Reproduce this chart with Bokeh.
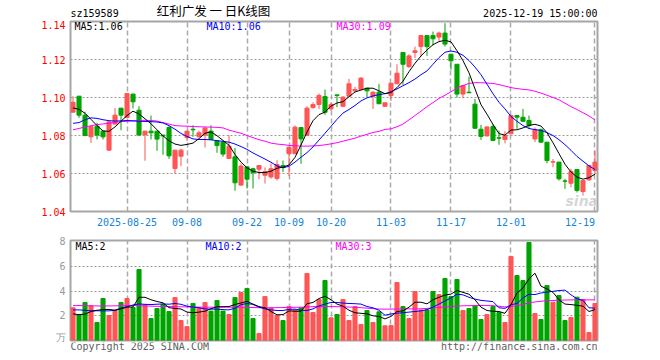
import pandas as pd
from bokeh.plotting import figure
from bokeh.layouts import column
from bokeh.models import Range1d, FixedTicker, Label, ColumnDataSource, PrintfTickFormatter
from bokeh.embed import file_html
from bokeh.resources import INLINE

# ---------------- data ----------------
code = "sz159589"
chart_title = "红利广发 一 日K线图"
stamp = "2025-12-19 15:00:00"
copyright_text = "Copyright 2025 SINA.COM"
url_text = "http://finance.sina.com.cn"

holidays = ["2025-10-01", "2025-10-02", "2025-10-03", "2025-10-06", "2025-10-07", "2025-10-08"]
dates = [d.strftime("%Y-%m-%d") for d in pd.bdate_range("2025-08-12", "2025-12-19")
         if d.strftime("%Y-%m-%d") not in holidays]

tick_dates = ["2025-08-25", "2025-09-08", "2025-09-22", "2025-10-09", "2025-10-20",
              "2025-11-03", "2025-11-17", "2025-12-01", "2025-12-19"]
tick_labels = ["2025-08-25", "09-08", "09-22", "10-09", "10-20", "11-03", "11-17", "12-01", "12-19"]

price_ticks = [1.04, 1.06, 1.08, 1.10, 1.12, 1.14]
vol_ticks = [0.1, 2, 4, 6, 8]          # the unit label sits at the bottom edge
vol_tick_labels = ["万", "2", "4", "6", "8"]

open_ = [1.0923, 1.1007, 1.0907, 1.0793, 1.0849, 1.0823, 1.0723, 1.0860, 1.0944, 1.0895,
         1.1018, 1.0933, 1.0804, 1.0823, 1.0823, 1.0802, 1.0842, 1.0626, 1.0691, 1.0789,
         1.0833, 1.0793, 1.0802, 1.0823, 1.0772, 1.0765, 1.0679, 1.0688, 1.0539, 1.0635,
         1.0625, 1.0623, 1.0591, 1.0582, 1.0574, 1.0642, 1.0704, 1.0704, 1.0842, 1.0800,
         1.0947, 1.0963, 1.1005, 1.0940, 1.1014, 1.0954, 1.1007, 1.1035, 1.1042, 1.1049,
         1.1007, 1.1028, 1.0954, 1.1010, 1.1072, 1.1237, 1.1163, 1.1237, 1.1268, 1.1326,
         1.1326, 1.1318, 1.1339, 1.1228, 1.1175, 1.1018, 1.1028, 1.0965, 1.0833, 1.0798,
         1.0847, 1.0788, 1.0779, 1.0809, 1.0905, 1.0896, 1.0879, 1.0782, 1.0830, 1.0765,
         1.0660, 1.0660, 1.0561, 1.0549, 1.0621, 1.0505, 1.0567, 1.0616]
high = [1.1007, 1.1007, 1.0925, 1.0854, 1.0867, 1.0823, 1.0872, 1.0944, 1.0944, 1.1021,
        1.1018, 1.0954, 1.0823, 1.0905, 1.0823, 1.0802, 1.0849, 1.0723, 1.0730, 1.0823,
        1.0854, 1.0825, 1.0840, 1.0854, 1.0772, 1.0772, 1.0802, 1.0735, 1.0653, 1.0635,
        1.0630, 1.0642, 1.0632, 1.0653, 1.0670, 1.0668, 1.0738, 1.0853, 1.0842, 1.0954,
        1.0975, 1.1021, 1.1042, 1.0975, 1.1014, 1.1007, 1.1098, 1.1056, 1.1107, 1.1049,
        1.1032, 1.1072, 1.0975, 1.1075, 1.1175, 1.1237, 1.1228, 1.1268, 1.1326, 1.1326,
        1.1347, 1.1347, 1.1391, 1.1228, 1.1175, 1.1063, 1.1110, 1.0993, 1.0856, 1.0847,
        1.0861, 1.0826, 1.0823, 1.0911, 1.0905, 1.0940, 1.0905, 1.0842, 1.0837, 1.0765,
        1.0677, 1.0660, 1.0572, 1.0625, 1.0621, 1.0563, 1.0642, 1.0721]
low = [1.0920, 1.0893, 1.0796, 1.0761, 1.0779, 1.0779, 1.0719, 1.0858, 1.0828, 1.0895,
       1.0942, 1.0802, 1.0667, 1.0779, 1.0719, 1.0698, 1.0677, 1.0600, 1.0639, 1.0770,
       1.0793, 1.0793, 1.0737, 1.0779, 1.0709, 1.0688, 1.0679, 1.0509, 1.0535, 1.0521,
       1.0521, 1.0570, 1.0547, 1.0572, 1.0563, 1.0607, 1.0586, 1.0704, 1.0651, 1.0800,
       1.0942, 1.0940, 1.0909, 1.0930, 1.0949, 1.0949, 1.1007, 1.1028, 1.1042, 1.1002,
       1.0940, 1.0967, 1.0950, 1.0982, 1.1072, 1.1067, 1.1155, 1.1207, 1.1216, 1.1219,
       1.1274, 1.1298, 1.1268, 1.1146, 1.1000, 1.0996, 1.1025, 1.0835, 1.0777, 1.0795,
       1.0770, 1.0751, 1.0759, 1.0809, 1.0835, 1.0870, 1.0835, 1.0765, 1.0763, 1.0654,
       1.0633, 1.0563, 1.0519, 1.0528, 1.0500, 1.0484, 1.0560, 1.0598]
close = [1.0975, 1.0907, 1.0800, 1.0846, 1.0802, 1.0793, 1.0872, 1.0907, 1.0907, 1.1021,
         1.0977, 1.0802, 1.0823, 1.0814, 1.0781, 1.0798, 1.0693, 1.0723, 1.0723, 1.0823,
         1.0830, 1.0814, 1.0840, 1.0779, 1.0747, 1.0702, 1.0744, 1.0551, 1.0639, 1.0570,
         1.0604, 1.0642, 1.0610, 1.0625, 1.0647, 1.0633, 1.0738, 1.0844, 1.0782, 1.0944,
         1.0963, 1.1011, 1.0922, 1.0963, 1.1010, 1.1002, 1.1072, 1.1042, 1.1102, 1.1035,
         1.1028, 1.0967, 1.0972, 1.1075, 1.1128, 1.1175, 1.1219, 1.1246, 1.1326, 1.1268,
         1.1309, 1.1339, 1.1281, 1.1193, 1.1018, 1.1063, 1.1025, 1.0838, 1.0795, 1.0845,
         1.0774, 1.0786, 1.0800, 1.0905, 1.0896, 1.0875, 1.0853, 1.0830, 1.0765, 1.0668,
         1.0662, 1.0572, 1.0559, 1.0611, 1.0511, 1.0563, 1.0642, 1.0660]
volume = [2.65, 2.11, 3.08, 2.81, 1.46, 3.40, 2.02, 2.43, 3.08, 3.40,
          2.67, 5.75, 2.91, 1.78, 2.59, 2.94, 2.35, 3.48, 1.62, 1.13,
          3.00, 2.65, 3.08, 2.38, 3.24, 2.38, 2.11, 3.48, 3.89, 4.21,
          1.78, 0.57, 3.56, 2.65, 2.02, 1.62, 2.75, 2.48, 2.65, 5.43,
          2.27, 3.32, 4.86, 1.84, 2.11, 3.32, 1.62, 2.75, 1.30, 2.43,
          1.46, 2.32, 1.19, 1.21, 4.70, 2.75, 1.78, 3.97, 2.48, 2.48,
          3.97, 3.72, 5.02, 3.56, 4.94, 2.43, 2.59, 2.81, 1.70, 2.11,
          2.75, 2.27, 1.46, 6.80, 5.26, 4.86, 7.94, 2.19, 1.70, 4.45,
          3.10, 3.64, 1.62, 1.86, 3.51, 3.32, 0.65, 3.00]

ma5 = [1.0945, 1.0938, 1.0917, 1.0885, 1.0852, 1.0824, 1.0822, 1.0845, 1.0875, 1.0905,
       1.0928, 1.0913, 1.0888, 1.0862, 1.0830, 1.0798, 1.0772, 1.0755, 1.0748, 1.0753,
       1.0760, 1.0784, 1.0812, 1.0819, 1.0799, 1.0774, 1.0749, 1.0700, 1.0660, 1.0630,
       1.0612, 1.0605, 1.0605, 1.0612, 1.0628, 1.0633, 1.0645, 1.0685, 1.0750, 1.0818,
       1.0878, 1.0910, 1.0923, 1.0955, 1.0971, 1.0978, 1.1004, 1.1029, 1.1039, 1.1049,
       1.1049, 1.1035, 1.1020, 1.1026, 1.1052, 1.1086, 1.1136, 1.1180, 1.1219, 1.1250,
       1.1278, 1.1294, 1.1301, 1.1293, 1.1246, 1.1194, 1.1130, 1.1045, 1.0962, 1.0912,
       1.0858, 1.0810, 1.0802, 1.0829, 1.0830, 1.0840, 1.0853, 1.0859, 1.0850, 1.0815,
       1.0762, 1.0705, 1.0649, 1.0608, 1.0581, 1.0570, 1.0578, 1.0596]
ma10 = [1.0864, 1.0868, 1.0883, 1.0893, 1.0890, 1.0883, 1.0878, 1.0876, 1.0877, 1.0879,
        1.0877, 1.0875, 1.0874, 1.0873, 1.0871, 1.0866, 1.0852, 1.0833, 1.0811, 1.0795,
        1.0782, 1.0779, 1.0779, 1.0777, 1.0773, 1.0769, 1.0765, 1.0755, 1.0742, 1.0727,
        1.0708, 1.0692, 1.0676, 1.0659, 1.0640, 1.0630, 1.0638, 1.0660, 1.0686, 1.0710,
        1.0740, 1.0776, 1.0812, 1.0848, 1.0885, 1.0918, 1.0937, 1.0958, 1.0982, 1.0998,
        1.1008, 1.1015, 1.1020, 1.1030, 1.1045, 1.1062, 1.1078, 1.1097, 1.1120, 1.1140,
        1.1175, 1.1210, 1.1238, 1.1245, 1.1238, 1.1222, 1.1195, 1.1160, 1.1120, 1.1070,
        1.1020, 1.0975, 1.0940, 1.0900, 1.0875, 1.0852, 1.0837, 1.0831, 1.0827, 1.0815,
        1.0800, 1.0778, 1.0752, 1.0722, 1.0690, 1.0665, 1.0640, 1.0621]
ma30 = [1.0830, 1.0837, 1.0845, 1.0851, 1.0857, 1.0861, 1.0865, 1.0869, 1.0873, 1.0875,
        1.0877, 1.0879, 1.0880, 1.0879, 1.0876, 1.0868, 1.0860, 1.0852, 1.0850, 1.0849,
        1.0847, 1.0846, 1.0845, 1.0844, 1.0843, 1.0840, 1.0828, 1.0820, 1.0812, 1.0800,
        1.0789, 1.0778, 1.0770, 1.0760, 1.0755, 1.0752, 1.0748, 1.0746, 1.0744, 1.0744,
        1.0745, 1.0747, 1.0751, 1.0756, 1.0762, 1.0770, 1.0778, 1.0786, 1.0797, 1.0806,
        1.0816, 1.0822, 1.0832, 1.0835, 1.0846, 1.0860, 1.0882, 1.0905, 1.0928, 1.0952,
        1.0973, 1.0995, 1.1012, 1.1030, 1.1050, 1.1063, 1.1074, 1.1078, 1.1078, 1.1076,
        1.1074, 1.1068, 1.1060, 1.1052, 1.1047, 1.1043, 1.1040, 1.1033, 1.1023, 1.1012,
        1.1000, 1.0988, 1.0970, 1.0952, 1.0937, 1.0920, 1.0903, 1.0882]

vma5 = [2.16, 2.09, 2.14, 2.35, 2.45, 2.50, 2.52, 2.45, 2.56, 2.70,
        2.72, 3.50, 3.50, 3.30, 3.16, 3.05, 2.66, 2.60, 2.55, 2.30,
        2.25, 2.30, 2.37, 2.58, 2.73, 2.74, 2.75, 2.92, 3.04, 3.17,
        2.95, 2.75, 2.65, 2.35, 2.08, 2.10, 2.40, 2.37, 2.37, 2.98,
        3.08, 3.40, 3.58, 3.30, 2.95, 2.78, 2.45, 2.25, 2.20, 2.16,
        2.00, 1.95, 1.75, 1.95, 2.35, 2.40, 2.70, 3.10, 3.10, 2.97,
        3.30, 3.50, 3.68, 3.76, 4.05, 3.90, 3.75, 3.30, 2.70, 2.43,
        2.37, 2.35, 2.20, 2.90, 3.85, 4.25, 5.00, 5.45, 4.40, 4.18,
        3.90, 3.30, 2.95, 2.91, 2.85, 2.78, 2.35, 2.50]
vma10 = [2.48, 2.48, 2.45, 2.40, 2.41, 2.40, 2.40, 2.45, 2.63, 2.74,
         2.88, 2.96, 2.93, 2.91, 2.94, 2.96, 2.94, 3.00, 2.93, 2.78,
         2.71, 2.65, 2.56, 2.54, 2.54, 2.50, 2.48, 2.62, 2.90, 3.00,
         2.92, 2.70, 2.56, 2.48, 2.43, 2.43, 2.52, 2.54, 2.45, 2.43,
         2.56, 2.80, 2.95, 3.08, 3.08, 3.03, 3.00, 2.98, 2.95, 2.75,
         2.65, 2.45, 2.05, 2.15, 2.21, 2.25, 2.30, 2.35, 2.40, 2.50,
         2.70, 2.95, 3.20, 3.45, 3.75, 3.70, 3.50, 3.35, 3.25, 3.20,
         3.15, 2.65, 2.60, 2.90, 3.00, 3.45, 3.75, 3.72, 3.85, 3.92,
         3.98, 4.05, 4.08, 3.70, 3.38, 3.25, 2.65, 2.62]
vma30 = [2.83, 2.83, 2.82, 2.81, 2.80, 2.80, 2.80, 2.81, 2.82, 2.83,
         2.83, 2.82, 2.80, 2.78, 2.77, 2.76, 2.75, 2.74, 2.73, 2.72,
         2.71, 2.70, 2.70, 2.70, 2.70, 2.70, 2.70, 2.70, 2.69, 2.68,
         2.67, 2.66, 2.65, 2.65, 2.66, 2.67, 2.68, 2.69, 2.70, 2.72,
         2.74, 2.75, 2.75, 2.75, 2.74, 2.73, 2.71, 2.69, 2.66, 2.62,
         2.58, 2.55, 2.54, 2.54, 2.55, 2.56, 2.56, 2.56, 2.57, 2.60,
         2.64, 2.68, 2.72, 2.76, 2.79, 2.81, 2.82, 2.83, 2.83, 2.83,
         2.82, 2.77, 2.72, 2.75, 2.83, 2.92, 3.05, 3.12, 3.18, 3.22,
         3.24, 3.26, 3.28, 3.29, 3.29, 3.29, 3.29, 3.29]

# ---------------- styling ----------------
UP = "#ff5555"
DOWN = "#00a400"
GRID = "#ababab"
FRAME = "#a6a6a6"
MONO = "DejaVu Sans Mono"
W = 660
BL, BR = 70, 63          # left / right borders -> 527 px wide frames

idx = list(range(len(dates)))
tick_idx = [dates.index(d) for d in tick_dates]
colors = [UP if c >= o else DOWN for o, c in zip(open_, close)]
src = ColumnDataSource(dict(
    x=idx, open=open_, high=high, low=low, close=close,
    top=[max(o, c) for o, c in zip(open_, close)],
    bottom=[min(o, c) for o, c in zip(open_, close)],
    vol=volume, color=colors,
    ma5=ma5, ma10=ma10, ma30=ma30, vma5=vma5, vma10=vma10, vma30=vma30))

xr = Range1d(-0.42, len(dates) - 1 + 0.42)


def style_common(p):
    p.outline_line_color = FRAME
    p.outline_line_width = 2
    p.background_fill_color = "white"
    p.border_fill_color = "white"
    p.xgrid.ticker = FixedTicker(ticks=tick_idx)
    p.xgrid.grid_line_color = GRID
    p.xgrid.grid_line_dash = "5 3"
    p.xgrid.grid_line_width = 1.5
    p.ygrid.grid_line_color = "#9a9a9a"
    p.ygrid.grid_line_dash = "2 2"
    p.ygrid.grid_line_width = 1
    for ax in p.yaxis:
        ax.axis_line_color = None
        ax.major_tick_line_color = None
        ax.minor_tick_line_color = None
        ax.major_tick_out = 0
        ax.major_tick_in = 0
        ax.major_label_standoff = 5
        ax.major_label_text_font = MONO
        ax.major_label_text_font_size = "10px"


def text_strip(height):
    s = figure(width=W, height=height, x_range=Range1d(0, 1), y_range=Range1d(0, 1),
               output_backend="svg", toolbar_location=None, title=None,
               x_axis_location=None, y_axis_location=None,
               min_border_left=BL, min_border_right=BR, min_border_top=0, min_border_bottom=0)
    s.grid.visible = False
    s.outline_line_color = None
    s.background_fill_color = "white"
    s.border_fill_color = "white"
    return s


def strip_label(s, x, y, text, **kw):
    s.add_layout(Label(x=x, y=y, x_units="screen", y_units="screen", text=text, **kw))


# ---------------- header strip (page y 0..20) ----------------
hp = text_strip(20)
strip_label(hp, 0, 6.9, code, text_font=MONO, text_font_size="10px",
            text_baseline="alphabetic", text_color="black")
strip_label(hp, 143, 9.8, chart_title, text_font="Noto Sans CJK SC", text_font_size="12.5px",
            text_align="center", text_baseline="alphabetic", text_color="black")
strip_label(hp, 527, 6.9, stamp, text_font=MONO, text_font_size="10px",
            text_align="right", text_baseline="alphabetic", text_color="black")

# ---------------- price panel (frame y 21..211) ----------------
p1 = figure(width=W, height=212, x_range=xr, y_range=Range1d(1.04, 1.14),
            output_backend="svg", toolbar_location=None, title=None,
            min_border_left=BL, min_border_right=BR, min_border_top=1, min_border_bottom=21)
style_common(p1)
p1.yaxis.ticker = FixedTicker(ticks=price_ticks)
p1.yaxis.formatter = PrintfTickFormatter(format="%.2f")
p1.yaxis.major_label_text_color = "#ff0000"
p1.ygrid.ticker = FixedTicker(ticks=price_ticks)

# the last date label sits left of its tick (as in the original): pad with no-break spaces
overrides = {}
for i, lab in zip(tick_idx, tick_labels):
    overrides[i] = lab + ("\u00a0" * 5 if i == tick_idx[-1] else "")

xa = p1.xaxis[0]
xa.ticker = FixedTicker(ticks=tick_idx)
xa.major_label_overrides = overrides
xa.axis_line_color = None
xa.major_tick_line_color = None
xa.minor_tick_line_color = None
xa.major_tick_out = 0
xa.major_tick_in = 0
xa.major_label_standoff = 5
xa.major_label_text_font = MONO
xa.major_label_text_font_size = "10px"
xa.major_label_text_color = "#1384d6"

p1.segment(x0="x", y0="low", x1="x", y1="high", color="color", line_width=1, source=src)
p1.vbar(x="x", width=0.68, top="top", bottom="bottom", fill_color="color",
        line_color="color", line_width=1, source=src)
p1.line("x", "ma30", color="#ff00ff", line_width=1, source=src)
p1.line("x", "ma10", color="#0000ff", line_width=1, source=src)
p1.line("x", "ma5", color="#000000", line_width=1, source=src)

leg_y = 185
for xx, txt, col in [(4, "MA5:%.2f" % ma5[-1], "#000000"),
                     (136, "MA10:%.2f" % ma10[-1], "#0000ff"),
                     (266, "MA30:%.2f" % ma30[-1], "#ff00ff")]:
    p1.add_layout(Label(x=xx, y=leg_y, x_units="screen", y_units="screen", text=txt,
                        text_font=MONO, text_font_size="10px", text_baseline="middle",
                        text_color=col))

p1.add_layout(Label(x=495, y=3, x_units="screen", y_units="screen", text="sina",
                    text_font="DejaVu Sans", text_font_style="bold italic",
                    text_font_size="14px", text_color="#cfcfcf", text_alpha=0.85))

# ---------------- volume panel (frame y 240..340) ----------------
p2 = figure(width=W, height=110, x_range=xr, y_range=Range1d(0, 8.1),
            output_backend="svg", toolbar_location=None, title=None,
            min_border_left=BL, min_border_right=BR, min_border_top=8, min_border_bottom=2)
style_common(p2)
p2.xaxis.visible = False
p2.yaxis.ticker = FixedTicker(ticks=vol_ticks)
p2.yaxis.major_label_overrides = {t: lab for t, lab in zip(vol_ticks, vol_tick_labels)}
p2.yaxis.major_label_text_color = "#999999"
p2.ygrid.ticker = FixedTicker(ticks=[2, 4, 6])

p2.vbar(x="x", width=0.68, top="vol", bottom=0, fill_color="color",
        line_color="color", line_width=1, source=src)
p2.line("x", "vma30", color="#ff00ff", line_width=1, source=src)
p2.line("x", "vma10", color="#0000ff", line_width=1, source=src)
p2.line("x", "vma5", color="#000000", line_width=1, source=src)

vleg_y = 94
for xx, txt, col in [(5, "MA5:%d" % int(vma5[-1]), "#000000"),
                     (135, "MA10:%d" % int(vma10[-1]), "#0000ff"),
                     (265, "MA30:%d" % int(vma30[-1]), "#ff00ff")]:
    p2.add_layout(Label(x=xx, y=vleg_y, x_units="screen", y_units="screen", text=txt,
                        text_font=MONO, text_font_size="10px", text_baseline="middle",
                        text_color=col))

# ---------------- footer strip (page y 342..358) ----------------
fp = text_strip(16)
strip_label(fp, 0, 11.6, copyright_text, text_font=MONO, text_font_size="10px",
            text_baseline="alphabetic", text_color="#606060")
strip_label(fp, 527, 11.6, url_text, text_font=MONO, text_font_size="10px",
            text_align="right", text_baseline="alphabetic", text_color="#606060")

layout = column(hp, p1, p2, fp, spacing=0)
open("out.html", "w").write(file_html(layout, INLINE))
